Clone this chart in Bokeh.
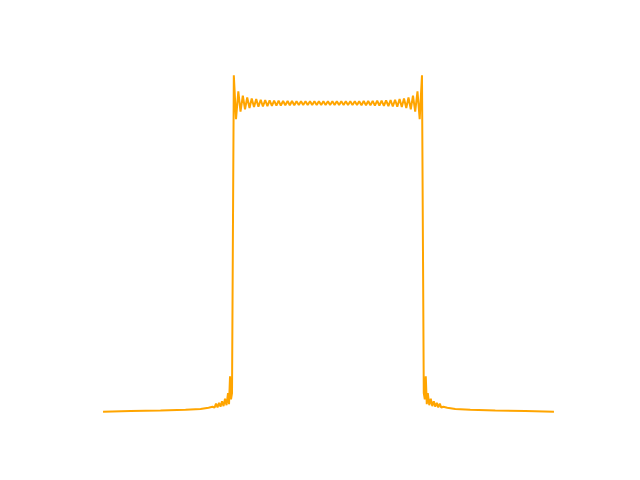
from bokeh.plotting import figure
from bokeh.models import Range1d
from bokeh.embed import file_html
from bokeh.resources import INLINE

# Left baseline tail and left edge (x, y)
left_x = [0.0, 27.5, 57.5, 82.5, 97.5, 105.5, 109.5, 111.5, 113.0, 114.5, 116.0,
          117.5, 119.0, 120.5, 122.0, 123.5, 125.0, 126.0, 127.0, 128.0, 129.0]
left_y = [0.000, 0.002, 0.004, 0.006, 0.009, 0.013, 0.016, 0.013, 0.026, 0.014, 0.029,
          0.016, 0.034, 0.018, 0.042, 0.021, 0.060, 0.024, 0.115, 0.040, 0.060]

# Top plateau extrema (Gibbs ripples)
top_x = [130.8, 133.0, 135.3, 137.5, 139.8, 142.0, 144.2, 146.5, 148.7, 151.0,
         153.2, 155.4, 157.7, 159.9, 162.2, 164.4, 166.6, 168.9, 171.1, 173.4,
         175.6, 177.8, 180.1, 182.3, 184.6, 186.8, 189.0, 191.3, 193.5, 195.8,
         198.0, 200.2, 202.5, 204.7, 207.0, 209.2, 211.4, 213.7, 215.9, 218.2,
         220.4, 222.6, 224.9, 227.1, 229.4, 231.6, 233.8, 236.1, 238.3, 240.6,
         242.8, 245.0, 247.3, 249.5, 251.8, 254.0, 256.2, 258.5, 260.7, 263.0,
         265.2, 267.4, 269.7, 271.9, 274.2, 276.4, 278.6, 280.9, 283.1, 285.4,
         287.6, 289.8, 292.1, 294.3, 296.6, 298.8, 301.0, 303.3, 305.5, 307.8,
         310.0, 312.2, 314.5, 316.7, 319.0]
top_y = [1.090, 0.948, 1.038, 0.972, 1.024, 0.980, 1.018, 0.984, 1.015, 0.987,
         1.013, 0.988, 1.011, 0.989, 1.010, 0.990, 1.009, 0.991, 1.008, 0.992,
         1.008, 0.992, 1.007, 0.993, 1.007, 0.993, 1.007, 0.993, 1.006, 0.994,
         1.006, 0.994, 1.006, 0.994, 1.006, 0.994, 1.006, 0.994, 1.006, 0.994,
         1.006, 0.994, 1.006,
         0.994, 1.006, 0.994, 1.006, 0.994, 1.006, 0.994, 1.006, 0.994, 1.006,
         0.994, 1.006, 0.994, 1.006, 0.993, 1.007, 0.993, 1.007, 0.993, 1.007,
         0.992, 1.008, 0.992, 1.008, 0.991, 1.009, 0.990, 1.010, 0.989, 1.011,
         0.988, 1.013, 0.987, 1.015, 0.984, 1.018, 0.980, 1.024, 0.972, 1.038,
         0.948, 1.090]

# Right edge and right baseline tail
right_x = [320.8, 321.8, 322.8, 323.8, 324.8, 326.3, 327.8, 329.3, 330.8, 332.3,
           333.8, 335.3, 336.8, 338.3, 340.3, 344.3, 352.3, 367.3, 392.3, 422.3, 451.0]
right_y = [0.060, 0.040, 0.115, 0.024, 0.060, 0.021, 0.042, 0.018, 0.034, 0.016,
           0.029, 0.014, 0.026, 0.013, 0.016, 0.013, 0.009, 0.006, 0.004, 0.002, 0.000]

xs = left_x + top_x + right_x
ys = left_y + top_y + right_y

xmin, xmax = min(xs), max(xs)
ymin, ymax = min(ys), max(ys)
xpad = 0.05 * (xmax - xmin)
ypad = 0.05 * (ymax - ymin)

p = figure(width=640, height=480, frame_width=496, frame_height=370,
           min_border_left=80, min_border_right=64, min_border_top=58,
           min_border_bottom=52, output_backend="svg", toolbar_location=None,
           x_range=Range1d(xmin - xpad, xmax + xpad),
           y_range=Range1d(ymin - ypad, ymax + ypad))
p.axis.visible = False
p.grid.visible = False
p.outline_line_color = None
p.background_fill_color = "white"
p.border_fill_color = "white"

p.line(xs, ys, line_color="#FFA500", line_width=2)

open("out.html", "w").write(file_html(p, INLINE))
